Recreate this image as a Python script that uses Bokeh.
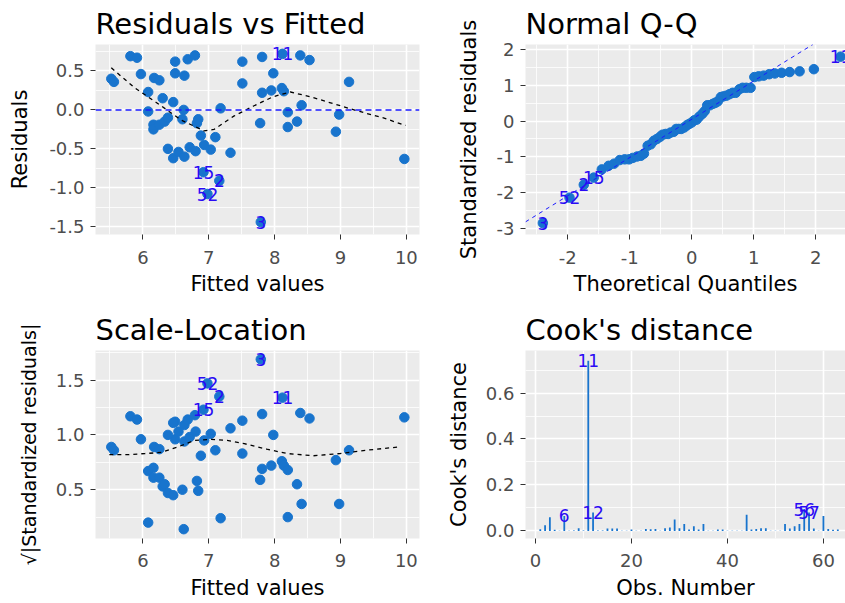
from bokeh.plotting import figure
from bokeh.layouts import gridplot
from bokeh.models import ColumnDataSource, FixedTicker, PrintfTickFormatter, Span, Slope, Range1d
from bokeh.embed import file_html
from bokeh.resources import INLINE
from bokeh.core.properties import value

FONT = "DejaVu Sans"
PT_COLOR = "#1874CD"
LBL_COLOR = "#2A0AF5"

# ---------------- data ----------------
fitted = [5.52, 5.56, 5.81, 5.91, 5.97, 6.08, 6.08, 6.17, 6.25, 6.30,
          6.16, 6.16, 6.25, 6.33, 6.38, 6.46, 6.49, 6.49, 6.63, 6.62,
          6.60, 6.38, 6.46, 6.54, 6.63, 6.68, 6.79, 6.71, 6.80, 6.84,
          6.82, 6.88, 6.93, 7.03, 7.10, 7.18, 7.33, 6.92, 7.16, 6.98,
          7.79, 7.51, 7.51, 7.81, 7.81, 7.78, 7.95, 7.98, 8.12, 8.11,
          8.14, 8.20, 8.20, 8.34, 8.39, 8.41, 8.53, 8.93, 8.98, 9.13,
          9.97]
residuals = [0.40, 0.36, 0.69, 0.67, 0.46, 0.23, -0.02, 0.41, 0.38, 0.15,
             -0.19, -0.25, -0.19, -0.15, -0.10, 0.10, 0.62, 0.47, 0.44, 0.00,
             -0.12, -0.50, -0.62, -0.54, -0.60, 0.65, 0.70, -0.48, -0.53, -0.12,
             -0.17, -0.33, -0.45, -0.51, -0.35, 0.02, -0.55, -0.80, -0.91, -1.08,
             -1.44, 0.62, 0.34, 0.68, 0.22, -0.17, 0.25, 0.47, 0.72, 0.28,
             0.24, -0.03, -0.22, -0.15, 0.70, 0.06, 0.64, -0.28, -0.06, 0.36,
             -0.63]
# sqrt(|standardized residuals|) for the same observations
scale_loc = [0.89, 0.86, 1.17, 1.14, 0.96, 0.67, 0.20, 0.89, 0.87, 0.53,
             0.61, 0.70, 0.61, 0.55, 0.47, 0.45, 1.12, 0.96, 0.94, 0.14,
             0.50, 1.00, 1.11, 1.03, 1.09, 1.14, 1.18, 0.98, 1.03, 0.49,
             0.58, 0.81, 0.95, 1.01, 0.86, 0.24, 1.06, 1.23, 1.35, 1.47,
             1.69, 1.13, 0.83, 1.19, 0.69, 0.59, 0.72, 1.00, 1.34, 0.76,
             0.72, 0.25, 0.68, 0.55, 1.20, 0.37, 1.15, 0.77, 0.37, 0.86,
             1.16]
# labelled observations (index in the arrays above -> observation number)
point_label_map = {37: "15", 38: "2", 39: "52", 40: "3", 48: "11"}

res_smooth_x = [5.52, 5.88, 6.23, 6.58, 6.93, 7.08, 7.38, 7.68, 7.98, 8.24, 8.54, 8.89, 9.29, 9.64, 9.99]
res_smooth_y = [0.54, 0.28, 0.08, -0.13, -0.27, -0.25, -0.08, 0.05, 0.17, 0.23, 0.17, 0.08, -0.02, -0.10, -0.20]
sl_smooth_x = [5.49, 5.77, 6.03, 6.28, 6.53, 6.78, 7.03, 7.28, 7.54, 7.88, 8.19, 8.59, 8.99, 9.39, 9.89]
sl_smooth_y = [0.82, 0.82, 0.83, 0.84, 0.89, 0.95, 0.96, 0.95, 0.92, 0.87, 0.83, 0.81, 0.83, 0.86, 0.89]

qq_theoretical = [-2.40, -1.97, -1.74, -1.58, -1.45, -1.34, -1.25, -1.16, -1.08, -1.01,
                  -0.95, -0.88, -0.82, -0.77, -0.71, -0.66, -0.61, -0.56, -0.51, -0.47,
                  -0.42, -0.38, -0.34, -0.29, -0.25, -0.21, -0.17, -0.12, -0.08, -0.04,
                  0.00, 0.04, 0.08, 0.12, 0.17, 0.21, 0.25, 0.29, 0.34, 0.38,
                  0.42, 0.47, 0.51, 0.56, 0.61, 0.66, 0.71, 0.77, 0.82, 0.88,
                  0.95, 1.01, 1.08, 1.16, 1.25, 1.34, 1.45, 1.58, 1.74, 1.97,
                  2.40]
qq_standardized = [-2.85, -2.14, -1.78, -1.58, -1.35, -1.25, -1.19, -1.09, -1.07, -1.07,
                   -1.03, -0.99, -0.97, -0.91, -0.69, -0.65, -0.55, -0.50, -0.44, -0.38,
                   -0.36, -0.36, -0.32, -0.30, -0.22, -0.22, -0.22, -0.18, -0.12, -0.08,
                   -0.04, 0.02, 0.04, 0.12, 0.20, 0.28, 0.44, 0.44, 0.48, 0.51,
                   0.55, 0.67, 0.69, 0.71, 0.75, 0.79, 0.79, 0.89, 0.93, 0.93,
                   0.93, 1.23, 1.25, 1.27, 1.31, 1.33, 1.35, 1.37, 1.39, 1.45,
                   1.80]
qq_label_map = {0: "3", 1: "52", 2: "2", 3: "15", 60: "11"}
qq_slope = 1.07
qq_intercept = 0.05

cook_d = [0.007, 0.025, 0.06, 0.005, 0.001, 0.065, 0.001, 0.002, 0.012, 0.002,
          0.74, 0.08, 0.002, 0.002, 0.01, 0.01, 0.01, 0.001, 0.001, 0.006,
          0.001, 0.001, 0.008, 0.007, 0.008, 0.001, 0.012, 0.015, 0.05, 0.012,
          0.03, 0.006, 0.02, 0.006, 0.03, 0.001, 0.001, 0.006, 0.006, 0.001,
          0.001, 0.001, 0.001, 0.07, 0.006, 0.008, 0.012, 0.012, 0.001, 0.001,
          0.001, 0.03, 0.01, 0.02, 0.03, 0.095, 0.08, 0.01, 0.001, 0.065,
          0.008, 0.005, 0.006]
cook_obs = list(range(1, len(cook_d) + 1))
cook_labels = ["6", "11", "12", "56", "57"]

# tick values
res_x_ticks = [6, 7, 8, 9, 10]
res_x_minor = [5.5, 6.5, 7.5, 8.5, 9.5]
res_y_ticks = [-1.5, -1.0, -0.5, 0.0, 0.5]
res_y_minor = [-1.25, -0.75, -0.25, 0.25, 0.75]
qq_x_ticks = [-2, -1, 0, 1, 2]
qq_x_minor = [-2.5, -1.5, -0.5, 0.5, 1.5, 2.5]
qq_y_ticks = [-3, -2, -1, 0, 1, 2]
qq_y_minor = [-2.5, -1.5, -0.5, 0.5, 1.5]
sl_y_ticks = [0.5, 1.0, 1.5]
sl_y_minor = [0.25, 0.75, 1.25, 1.75]
cook_x_ticks = [0, 20, 40, 60]
cook_x_minor = [10, 30, 50]
cook_y_ticks = [0.0, 0.2, 0.4, 0.6]
cook_y_minor = [0.1, 0.3, 0.5, 0.7]


def make_fig(title, w, h, xr, yr, left, right, top, bottom, ylab_standoff, xlab_standoffs):
    p = figure(width=w, height=h, x_range=Range1d(*xr), y_range=Range1d(*yr),
               output_backend="svg", toolbar_location=None,
               min_border_left=left, min_border_right=right,
               min_border_top=top, min_border_bottom=bottom)
    p.title.text = title
    p.title.text_font = FONT
    p.title.text_font_size = "29px"
    p.title.text_font_style = "normal"
    p.title.text_color = "black"
    p.title.standoff = 8
    p.background_fill_color = "#EBEBEB"
    p.border_fill_color = "white"
    p.outline_line_color = None
    for ax in (p.xaxis[0], p.yaxis[0]):
        ax.axis_line_color = None
        ax.major_tick_line_color = "#333333"
        ax.major_tick_out = 5
        ax.major_tick_in = 0
        ax.minor_tick_line_color = None
        ax.major_label_text_font = FONT
        ax.major_label_text_font_size = "18px"
        ax.major_label_text_color = "#4D4D4D"
        ax.major_label_standoff = 6
        ax.axis_label_text_font = FONT
        ax.axis_label_text_font_size = "21px"
        ax.axis_label_text_font_style = "normal"
        ax.axis_label_text_color = "black"
    p.xaxis.major_label_standoff = xlab_standoffs[0]
    p.xaxis.axis_label_standoff = xlab_standoffs[1]
    p.yaxis.axis_label_standoff = ylab_standoff
    p.grid.grid_line_color = "white"
    p.grid.grid_line_width = 1.6
    p.grid.minor_grid_line_color = "white"
    p.grid.minor_grid_line_width = 0.8
    return p


def add_labels(p, xs, ys, texts):
    src = ColumnDataSource(dict(x=xs, y=ys, t=texts))
    p.text(x="x", y="y", text="t", source=src, text_font=value(FONT),
           text_font_size=value("17px"), text_color=LBL_COLOR,
           text_align="center", text_baseline="middle")


# ---------- Residuals vs Fitted ----------
p1 = make_fig("Residuals vs Fitted", 422, 300, (5.28, 10.2), (-1.6, 0.84), 95, 3, 43, 66, 14, (11, 5))
p1.xaxis.ticker = FixedTicker(ticks=res_x_ticks, minor_ticks=res_x_minor)
p1.yaxis.ticker = FixedTicker(ticks=res_y_ticks, minor_ticks=res_y_minor)
p1.xaxis.formatter = PrintfTickFormatter(format="%d")
p1.yaxis.formatter = PrintfTickFormatter(format="%.1f")
p1.xaxis.axis_label = "Fitted values"
p1.yaxis.axis_label = "Residuals"
p1.add_layout(Span(location=0, dimension="width", line_color="#1A1AFF",
                   line_dash="6 4", line_width=1.5))
p1.scatter(fitted, residuals, size=9.5, color=PT_COLOR)
p1.line(res_smooth_x, res_smooth_y, line_color="black", line_dash="4 4", line_width=1.3)
idx = sorted(point_label_map)
add_labels(p1, [fitted[i] for i in idx], [residuals[i] for i in idx], [point_label_map[i] for i in idx])

# ---------- Normal Q-Q ----------
p2 = make_fig("Normal Q-Q", 423, 300, (-2.68, 2.48), (-3.17, 2.14), 92, 0, 43, 66, 13, (11, 5))
p2.xaxis.ticker = FixedTicker(ticks=qq_x_ticks, minor_ticks=qq_x_minor)
p2.yaxis.ticker = FixedTicker(ticks=qq_y_ticks, minor_ticks=qq_y_minor)
p2.xaxis.formatter = PrintfTickFormatter(format="%d")
p2.yaxis.formatter = PrintfTickFormatter(format="%d")
p2.xaxis.axis_label = "Theoretical Quantiles"
p2.yaxis.axis_label = "Standardized residuals"
p2.scatter(qq_theoretical, qq_standardized, size=9.5, color=PT_COLOR)
p2.add_layout(Slope(gradient=qq_slope, y_intercept=qq_intercept, line_color="#1A1AFF",
                    line_dash="4 4", line_width=1))
idx = sorted(qq_label_map)
add_labels(p2, [qq_theoretical[i] for i in idx], [qq_standardized[i] for i in idx], [qq_label_map[i] for i in idx])

# ---------- Scale-Location ----------
p3 = make_fig("Scale-Location", 422, 303, (5.28, 10.2), (0.055, 1.77), 95, 3, 50, 65, 13, (10, 6))
p3.xaxis.ticker = FixedTicker(ticks=res_x_ticks, minor_ticks=res_x_minor)
p3.yaxis.ticker = FixedTicker(ticks=sl_y_ticks, minor_ticks=sl_y_minor)
p3.xaxis.formatter = PrintfTickFormatter(format="%d")
p3.yaxis.formatter = PrintfTickFormatter(format="%.1f")
p3.xaxis.axis_label = "Fitted values"
p3.yaxis.axis_label = "\u221a|Standardized residuals|"
p3.yaxis.axis_label_text_font_size = "19px"
p3.scatter(fitted, scale_loc, size=9.5, color=PT_COLOR)
p3.line(sl_smooth_x, sl_smooth_y, line_color="black", line_dash="4 4", line_width=1.3)
idx = sorted(point_label_map)
add_labels(p3, [fitted[i] for i in idx], [scale_loc[i] for i in idx], [point_label_map[i] for i in idx])

# ---------- Cook's distance ----------
p4 = make_fig("Cook's distance", 423, 303, (-2.08, 64.6), (-0.033, 0.785), 103, 0, 50, 65, 12, (10, 6))
p4.xaxis.ticker = FixedTicker(ticks=cook_x_ticks, minor_ticks=cook_x_minor)
p4.yaxis.ticker = FixedTicker(ticks=cook_y_ticks, minor_ticks=cook_y_minor)
p4.xaxis.formatter = PrintfTickFormatter(format="%d")
p4.yaxis.formatter = PrintfTickFormatter(format="%.1f")
p4.xaxis.axis_label = "Obs. Number"
p4.yaxis.axis_label = "Cook's distance"
p4.segment(x0=cook_obs, y0=[0] * len(cook_obs), x1=cook_obs, y1=cook_d,
           line_color=PT_COLOR, line_width=1.8)
lab_i = [int(s) - 1 for s in cook_labels]
add_labels(p4, [cook_obs[i] for i in lab_i], [cook_d[i] for i in lab_i], cook_labels)

grid = gridplot([[p1, p2], [p3, p4]], toolbar_location=None)

open("out.html", "w").write(file_html(grid, INLINE))
